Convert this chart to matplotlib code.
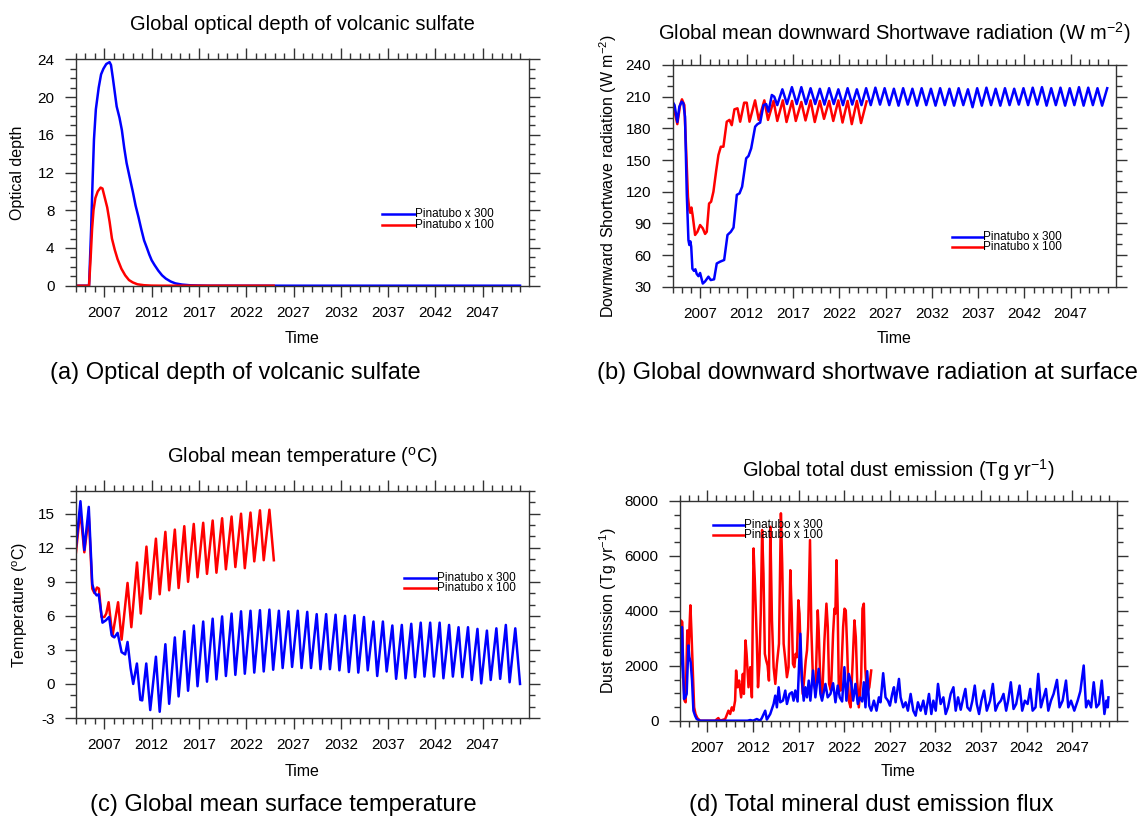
import matplotlib
matplotlib.use("Agg")
import matplotlib.pyplot as plt
from matplotlib.ticker import MultipleLocator, FixedLocator

plt.rcParams['font.family'] = ['Liberation Sans', 'DejaVu Sans']
plt.rcParams['mathtext.fontset'] = 'custom'
plt.rcParams['mathtext.rm'] = 'Liberation Sans'
plt.rcParams['mathtext.it'] = 'Liberation Sans'
plt.rcParams['mathtext.default'] = 'regular'
plt.rcParams['axes.unicode_minus'] = False

# ---------------- data ----------------
series_labels = ["Pinatubo x 300", "Pinatubo x 100"]
x_major_ticks = [2007, 2012, 2017, 2022, 2027, 2032, 2037, 2042, 2047]

# (a) optical depth
od300_t = [2004.0, 2005.38, 2005.6, 2005.75, 2005.9, 2006.1, 2006.4, 2006.65, 2006.9, 2007.2, 2007.55,
           2007.7, 2007.9, 2008.1, 2008.3, 2008.6, 2008.85, 2009.1, 2009.35, 2009.65, 2010.0, 2010.3,
           2010.6, 2010.9, 2011.2, 2011.5, 2011.75, 2012.0, 2012.3, 2012.7, 2013.1, 2013.5, 2014.0,
           2014.5, 2015.2, 2016.0, 2017.0, 2018.0, 2050.95]
od300_v = [0, 0, 6, 11, 15.5, 18.7, 21, 22.4, 23.0, 23.5, 23.7,
           23.4, 22, 20.5, 19, 17.8, 16.5, 14.6, 13, 11.6, 10.0, 8.5,
           7.3, 6.0, 4.8, 4.0, 3.3, 2.7, 2.2, 1.6, 1.1, 0.75, 0.45,
           0.25, 0.12, 0.05, 0.02, 0, 0]
od100_t = [2004.0, 2005.38, 2005.55, 2005.7, 2005.85, 2006.05, 2006.3, 2006.6, 2006.8, 2007.0, 2007.3,
           2007.55, 2007.8, 2008.1, 2008.4, 2008.8, 2009.2, 2009.6, 2010.0, 2010.5, 2011.2, 2012.0,
           2013.0, 2024.9]
od100_v = [0, 0, 3, 6, 8, 9.3, 10.0, 10.4, 10.3, 9.5, 8.3,
           6.8, 5.0, 3.8, 2.8, 1.8, 1.1, 0.6, 0.35, 0.15, 0.05, 0.01,
           0, 0]

# (b) downward shortwave radiation
sw300_t = [2004.0, 2004.2, 2004.5, 2004.72, 2004.97, 2005.15, 2005.33, 2005.52, 2005.7, 2005.8, 2005.9,
           2006.0, 2006.13, 2006.3, 2006.45, 2006.6, 2006.78, 2006.96, 2007.25, 2007.5, 2007.86, 2008.11,
           2008.47, 2008.76, 2009.12, 2009.56, 2009.92, 2010.28, 2010.57, 2010.93, 2011.22, 2011.5,
           2011.94, 2012.19, 2012.48, 2012.91, 2013.16, 2013.45, 2013.81, 2014.1, 2014.35, 2014.71,
           2014.97, 2015.3, 2015.85, 2016.35, 2016.88, 2017.4, 2017.9, 2018.4, 2018.9, 2019.4, 2019.9,
           2020.4, 2020.9, 2021.4, 2021.9, 2022.4, 2022.9, 2023.4, 2023.9, 2024.4, 2024.9, 2025.4,
           2025.9, 2026.4, 2026.9, 2027.4, 2027.9, 2028.4, 2028.9, 2029.4, 2029.9, 2030.4, 2030.9,
           2031.4, 2031.9, 2032.4, 2032.9, 2033.4, 2033.9, 2034.4, 2034.9, 2035.4, 2035.9, 2036.4,
           2036.9, 2037.4, 2037.9, 2038.4, 2038.9, 2039.4, 2039.9, 2040.4, 2040.9, 2041.4, 2041.9,
           2042.4, 2042.9, 2043.4, 2043.9, 2044.4, 2044.9, 2045.4, 2045.9, 2046.4, 2046.9, 2047.4,
           2047.9, 2048.4, 2048.9, 2049.4, 2049.9, 2050.4, 2050.95]
sw300_v = [205, 202, 186, 200.5, 205.3, 203.7, 191, 118, 74, 69.5, 73,
           68, 47, 45, 46.5, 42, 40, 43, 33, 35, 39.5, 36.3,
           37, 52, 53.7, 55.3, 79, 82, 86, 117, 118.4, 124.7,
           151.6, 153.8, 161, 181.6, 184, 185.4, 202, 203, 195.8, 211.6,
           210, 202, 217, 203, 219, 203, 219, 203, 218, 203, 217.5,
           202.5, 218, 203, 217, 202, 218, 202.5, 217, 202, 218, 202,
           218.5, 202.5, 218, 202, 217.5, 201.5, 218, 202.5, 217.5, 201.5, 218,
           202, 217.5, 201.5, 218, 202, 217.5, 201.5, 218, 202, 217, 200,
           218, 201.5, 218.5, 202, 217.5, 201.5, 218, 202, 217.5, 202.5, 218,
           202, 218.5, 202.5, 219, 201.5, 218, 202, 218.5, 201.5, 218, 202,
           219, 201.5, 218.5, 202, 218, 201.5, 218]
sw100_t = [2004.0, 2004.5, 2004.8, 2005.0, 2005.26, 2005.45, 2005.65, 2005.8, 2005.9, 2006.02, 2006.15,
           2006.42, 2006.67, 2006.96, 2007.25, 2007.5, 2007.68, 2007.93, 2008.15, 2008.4, 2008.7,
           2008.94, 2009.2, 2009.48, 2009.84, 2010.13, 2010.38, 2010.67, 2011.0, 2011.29, 2011.72,
           2012.0, 2012.3, 2012.9, 2013.3, 2013.9, 2014.3, 2014.9, 2015.3, 2015.9, 2016.3, 2016.9,
           2017.3, 2017.9, 2018.35, 2018.9, 2019.35, 2019.9, 2020.35, 2020.9, 2021.35, 2021.9,
           2022.35, 2022.9, 2023.35, 2023.9, 2024.35, 2024.95]
sw100_v = [204, 184, 202, 207.5, 202, 160, 115, 102.6, 100, 105, 98,
           79, 82, 88.4, 85.3, 80, 82, 108.8, 110.5, 120, 140,
           154.7, 162.6, 162.6, 186.3, 188, 183, 198, 199, 186.3, 204.3,
           204.3, 186.3, 206.5, 188, 206.5, 188, 206, 187, 206.5, 186, 206,
           187, 205, 187.5, 206.5, 186, 206, 189, 206, 187, 206.5,
           185.5, 206, 184, 206, 185, 205.5]

# (c) global mean temperature
tas300_t = [2004.0, 2004.47, 2004.88, 2005.35, 2005.72, 2005.95, 2006.18, 2006.4, 2006.8, 2007.15, 2007.5,
            2007.77, 2008.05, 2008.4, 2008.82, 2009.2, 2009.45, 2009.77, 2010.05, 2010.44, 2010.8,
            2011.0, 2011.43, 2011.85, 2012.45, 2012.85, 2013.45, 2013.85, 2014.45, 2014.85, 2015.45,
            2015.85, 2016.45, 2016.85, 2017.45, 2017.85, 2018.45, 2018.85, 2019.45, 2019.85, 2020.45,
            2020.85, 2021.45, 2021.85, 2022.45, 2022.85, 2023.45, 2023.85, 2024.45, 2024.85, 2025.45,
            2025.85, 2026.45, 2026.85, 2027.45, 2027.85, 2028.45, 2028.85, 2029.45, 2029.85, 2030.45,
            2030.85, 2031.45, 2031.85, 2032.45, 2032.85, 2033.45, 2033.85, 2034.45, 2034.85, 2035.45,
            2035.85, 2036.45, 2036.85, 2037.45, 2037.85, 2038.45, 2038.85, 2039.45, 2039.85, 2040.45,
            2040.85, 2041.45, 2041.85, 2042.45, 2042.85, 2043.45, 2043.85, 2044.45, 2044.85, 2045.45,
            2045.85, 2046.45, 2046.85, 2047.45, 2047.85, 2048.45, 2048.85, 2049.45, 2049.85, 2050.45,
            2050.95]
tas300_v = [12.1, 16.1, 11.8, 15.6, 8.8, 8.1, 7.8, 7.9, 5.4, 5.6, 5.9,
            4.3, 4.1, 4.5, 2.8, 2.6, 3.7, 1.4, 0.0, 1.8, -1.4,
            -1.45, 1.8, -2.3, 2.4, -2.45, 3.5, -1.75, 4.1, -1.1, 4.65,
            -0.6, 5.15, -0.2, 5.5, 0.2, 5.75, 0.4, 5.95, 0.7, 6.2,
            0.8, 6.4, 0.9, 6.45, 1.0, 6.5, 1.1, 6.55, 1.25, 6.45,
            1.4, 6.4, 1.5, 6.45, 1.4, 6.35, 1.4, 6.15, 1.3, 6.15,
            1.3, 6.1, 1.2, 6.0, 1.05, 6.05, 1.0, 5.9, 1.2, 5.5,
            0.7, 5.5, 1.1, 5.15, 0.45, 5.2, 0.5, 5.3, 0.6, 5.4,
            0.65, 5.4, 0.65, 5.4, 0.5, 5.2, 0.65, 5.0, 0.6, 5.0,
            0.35, 4.85, 0.05, 4.7, 0.35, 4.9, 0.45, 5.2, 0.15, 4.9,
            0.0]
tas100_t = [2004.0, 2004.45, 2004.88, 2005.35, 2005.72, 2005.95, 2006.22, 2006.42, 2006.7, 2007.0, 2007.2,
            2007.45, 2007.85, 2008.45, 2008.82, 2009.45, 2009.85, 2010.45, 2010.85, 2011.45, 2011.85,
            2012.45, 2012.85, 2013.45, 2013.85, 2014.45, 2014.85, 2015.45, 2015.85, 2016.45, 2016.85,
            2017.45, 2017.85, 2018.45, 2018.85, 2019.45, 2019.85, 2020.45, 2020.85, 2021.45, 2021.85,
            2022.45, 2022.85, 2023.45, 2023.85, 2024.45, 2024.92]
tas100_v = [11.6, 15.3, 11.6, 14.8, 8.4, 8.0, 8.5, 8.4, 5.9, 5.9, 6.2,
            7.2, 4.2, 7.2, 3.9, 8.9, 5.0, 10.7, 6.2, 12.1, 7.5,
            12.8, 7.9, 13.4, 8.25, 13.6, 8.45, 13.9, 9.0, 14.1, 9.4,
            14.2, 9.7, 14.4, 9.8, 14.6, 10.1, 14.75, 10.3, 15.0, 10.2,
            15.1, 10.8, 15.3, 10.9, 15.35, 10.9]

# (d) dust emission
dust300_t = [2004.0, 2004.22, 2004.37, 2004.44, 2004.59, 2004.73, 2004.92, 2005.03, 2005.17, 2005.32,
             2005.47, 2005.65, 2005.83, 2006.2, 2011.4, 2011.69, 2012.0, 2012.42, 2012.79, 2012.97,
             2013.34, 2013.52, 2013.89, 2014.26, 2014.44, 2014.62, 2014.81, 2014.99, 2015.28, 2015.54,
             2015.72, 2016.01, 2016.27, 2016.45, 2016.64, 2016.89, 2017.19, 2017.37, 2017.56, 2017.74,
             2017.92, 2018.11, 2018.29, 2018.58, 2018.84, 2019.2, 2019.39, 2019.57, 2019.94, 2020.19,
             2020.49, 2020.78, 2021.04, 2021.29, 2021.51, 2021.77, 2022.02, 2022.24, 2022.5, 2022.76,
             2022.98, 2023.23, 2023.49, 2023.71, 2023.97, 2024.15, 2024.33, 2024.52, 2024.74, 2024.96,
             2025.25, 2025.54, 2025.8, 2025.98, 2026.27, 2026.53, 2026.79, 2027.01, 2027.26, 2027.45,
             2027.63, 2028.0, 2028.18, 2028.47, 2028.73, 2028.98, 2029.28, 2029.57, 2029.83, 2030.08,
             2030.38, 2030.67, 2030.93, 2031.29, 2031.55, 2031.77, 2032.03, 2032.28, 2032.57, 2032.87,
             2033.12, 2033.38, 2033.67, 2033.97, 2034.22, 2034.48, 2034.77, 2035.06, 2035.28, 2035.5,
             2035.8, 2036.05, 2036.31, 2036.53, 2036.78, 2037.04, 2037.33, 2037.63, 2037.99, 2038.29,
             2038.58, 2038.87, 2039.17, 2039.46, 2039.75, 2039.97, 2040.26, 2040.56, 2040.85, 2041.22,
             2041.51, 2041.8, 2042.1, 2042.39, 2042.65, 2042.97, 2043.27, 2043.56, 2043.85, 2044.11,
             2044.37, 2044.66, 2044.95, 2045.32, 2045.61, 2045.94, 2046.31, 2046.56, 2046.86, 2047.22,
             2047.59, 2047.88, 2048.25, 2048.51, 2048.76, 2049.06, 2049.35, 2049.64, 2049.93, 2050.23,
             2050.52, 2050.74, 2050.89, 2050.96]
dust300_v = [1583, 3410, 1522, 790, 850, 975, 2740, 2314, 2131, 1460,
             365, 183, 60, 0, 0, 24, 0, 60, 0, 97,
             365, 40, 244, 609, 913, 487, 1218, 670, 730, 1096,
             609, 975, 1035, 730, 1100, 700, 3167, 1460, 730, 1218,
             850, 1460, 730, 1827, 850, 1888, 975, 730, 1340, 850,
             975, 1364, 670, 1279, 850, 700, 1949, 730, 1705, 1400,
             730, 1340, 609, 850, 700, 1400, 487, 1803, 548, 365,
             730, 365, 850, 670, 1730, 850, 730, 548, 975, 1218,
             670, 1522, 850, 487, 670, 365, 975, 365, 183, 670,
             365, 730, 244, 975, 244, 730, 365, 1340, 609, 850,
             244, 487, 975, 1218, 365, 850, 400, 850, 1157, 487,
             365, 730, 1279, 609, 244, 730, 1096, 365, 730, 1340,
             365, 609, 730, 975, 365, 730, 1400, 426, 609, 1279,
             365, 730, 609, 1157, 365, 487, 1705, 487, 850, 1157,
             365, 730, 975, 1486, 487, 730, 1462, 487, 730, 365,
             730, 1072, 2010, 487, 730, 487, 1400, 487, 609, 1462,
             244, 730, 487, 850]
dust100_t = [2004.0, 2004.1, 2004.25, 2004.37, 2004.5, 2004.62, 2004.8, 2004.95, 2005.14, 2005.25, 2005.39,
             2005.55, 2005.7, 2005.9, 2006.2, 2007.85, 2008.2, 2008.4, 2008.95, 2009.1, 2009.31, 2009.5,
             2009.68, 2009.85, 2010.04, 2010.15, 2010.3, 2010.48, 2010.7, 2010.89, 2011.0, 2011.18,
             2011.3, 2011.51, 2011.7, 2011.88, 2012.06, 2012.2, 2012.42, 2012.55, 2012.7, 2012.85,
             2013.0, 2013.15, 2013.3, 2013.45, 2013.6, 2013.75, 2013.9, 2014.08, 2014.26, 2014.45,
             2014.62, 2014.85, 2015.06, 2015.2, 2015.36, 2015.55, 2015.72, 2015.9, 2016.09, 2016.25,
             2016.38, 2016.53, 2016.68, 2016.82, 2016.97, 2017.1, 2017.26, 2017.45, 2017.63, 2017.78,
             2017.92, 2018.05, 2018.25, 2018.4, 2018.58, 2018.85, 2019.1, 2019.2, 2019.39, 2019.6,
             2019.83, 2020.05, 2020.2, 2020.34, 2020.55, 2020.78, 2020.93, 2021.03, 2021.15, 2021.28,
             2021.4, 2021.6, 2021.88, 2022.03, 2022.17, 2022.32, 2022.5, 2022.7, 2022.9, 2023.12,
             2023.27, 2023.42, 2023.6, 2023.86, 2024.0, 2024.15, 2024.3, 2024.5, 2024.75, 2024.96]
dust100_v = [2680, 3654, 3593, 1462, 730, 670, 3289, 2680, 4202, 3289, 1949,
             487, 244, 97, 0, 0, 97, 0, 60, 183, 365, 244,
             487, 365, 730, 1827, 1218, 1462, 850, 1705, 975, 2923,
             2436, 1218, 1949, 850, 6273, 5116, 2923, 1218, 2010, 3898,
             6943, 5359, 2436, 2192, 2010, 1462, 7064, 3654, 1949, 1340,
             2071, 2801, 7552, 5725, 2801, 2192, 1583, 1949, 5481, 3898,
             2071, 1949, 2436, 2314, 4385, 3898, 2071, 975, 1583, 2192,
             2558, 3410, 6577, 3289, 1462, 1096, 4019, 3289, 1340, 975,
             2923, 4263, 3410, 1340, 1096, 3167, 4080, 3898, 5846, 4141,
             1340, 1096, 3410, 4080, 4019, 2680, 730, 487, 1949, 3654,
             3045, 1462, 487, 1583, 4080, 4263, 1949, 975, 1218, 1827]

# ---------------- figure ----------------
W, H = 1138, 817
fig = plt.figure(figsize=(W / 100, H / 100), dpi=100)


def px_axes(l, t, r, b):
    return fig.add_axes([l / W, 1 - b / H, (r - l) / W, (b - t) / H])


BLUE = (0, 0, 1)
RED = (1, 0, 0)
LW = 1.8


def style(ax, ylim, ymaj, ymin):
    ax.set_xlim(2004, 2051.9)
    ax.set_ylim(*ylim)
    ax.xaxis.set_major_locator(FixedLocator(x_major_ticks))
    ax.xaxis.set_minor_locator(MultipleLocator(1))
    ax.yaxis.set_major_locator(MultipleLocator(ymaj))
    ax.yaxis.set_minor_locator(MultipleLocator(ymin))
    ax.tick_params(which='both', direction='out', top=True, right=True, width=1.0, color='#333333',
                   labelsize=11)
    ax.tick_params(which='major', length=8)
    ax.tick_params(which='minor', length=4)
    ax.tick_params(axis='x', which='major', pad=6.5)
    ax.tick_params(axis='y', which='major', pad=7.5)
    for s in ax.spines.values():
        s.set_linewidth(1.0)
        s.set_color('#333333')


def legend(ax, x0, x1, yb, yr):
    for y, c, lab in [(yb, BLUE, series_labels[0]), (yr, RED, series_labels[1])]:
        ax.plot([x0, x1], [y, y], color=c, lw=LW, transform=ax.transAxes, clip_on=False)
        ax.text(x1, y, lab, transform=ax.transAxes, ha='left', va='center', fontsize=8.5,
                color='black')


def labels(l, t, r, b, title, ylab, ylab_x, title_y, time_y):
    cx = (l + r) / 2 / W
    fig.text(cx, 1 - title_y / H, title, ha='center', va='center', fontsize=14.5)
    fig.text(ylab_x / W, 1 - (t + b) / 2 / H, ylab, rotation=90, ha='center', va='center', fontsize=11.5)
    fig.text(cx, 1 - time_y / H, "Time", ha='center', va='center', fontsize=11.5)


# (a)
pa = (76, 59.3, 529, 285.7)
ax = px_axes(*pa)
ax.plot(od300_t, od300_v, color=BLUE, lw=LW)
ax.plot(od100_t, od100_v, color=RED, lw=LW)
style(ax, (0, 24), 4, 1)
legend(ax, 0.675, 0.749, 0.317, 0.269)
labels(*pa, "Global optical depth of volcanic sulfate", "Optical depth", 18, 24, 338)
fig.text(235 / W, 1 - 373 / H, "(a) Optical depth of volcanic sulfate", ha='center', va='center',
         fontsize=17)

# (b)
pb = (672.7, 65, 1116, 286.7)
ax = px_axes(*pb)
ax.plot(sw100_t, sw100_v, color=RED, lw=LW)
ax.plot(sw300_t, sw300_v, color=BLUE, lw=LW)
style(ax, (30, 240), 30, 10)
legend(ax, 0.630, 0.700, 0.224, 0.179)
labels(*pb, "Global mean downward Shortwave radiation (W m$^{-2}$)",
       "Downward Shortwave radiation (W m$^{-2}$)", 608, 33, 338)
fig.text(597 / W, 1 - 373 / H, "(b) Global downward shortwave radiation at surface", ha='left',
         va='center', fontsize=17)

# (c)
pc = (76, 491, 529, 718)
ax = px_axes(*pc)
ax.plot(tas100_t, tas100_v, color=RED, lw=LW)
ax.plot(tas300_t, tas300_v, color=BLUE, lw=LW)
style(ax, (-3, 17), 3, 1)
ax.set_yticks([-3, 0, 3, 6, 9, 12, 15])
legend(ax, 0.725, 0.797, 0.618, 0.573)
labels(*pc, "Global mean temperature ($^{o}$C)", "Temperature ($^{o}$C)", 20, 457, 771)
fig.text(283 / W, 1 - 805 / H, "(c) Global mean surface temperature", ha='center', va='center',
         fontsize=17)

# (d)
pd_ = (680, 501, 1117, 720.7)
ax = px_axes(*pd_)
ax.plot(dust100_t, dust100_v, color=RED, lw=LW)
ax.plot(dust300_t, dust300_v, color=BLUE, lw=LW)
style(ax, (0, 8000), 2000, 500)
legend(ax, 0.075, 0.146, 0.891, 0.845)
labels(*pd_, "Global total dust emission (Tg yr$^{-1}$)", "Dust emission (Tg yr$^{-1}$)", 608, 470, 772)
fig.text(871 / W, 1 - 805 / H, "(d) Total mineral dust emission flux", ha='center', va='center',
         fontsize=17)

fig.savefig("out.png", dpi=100)
